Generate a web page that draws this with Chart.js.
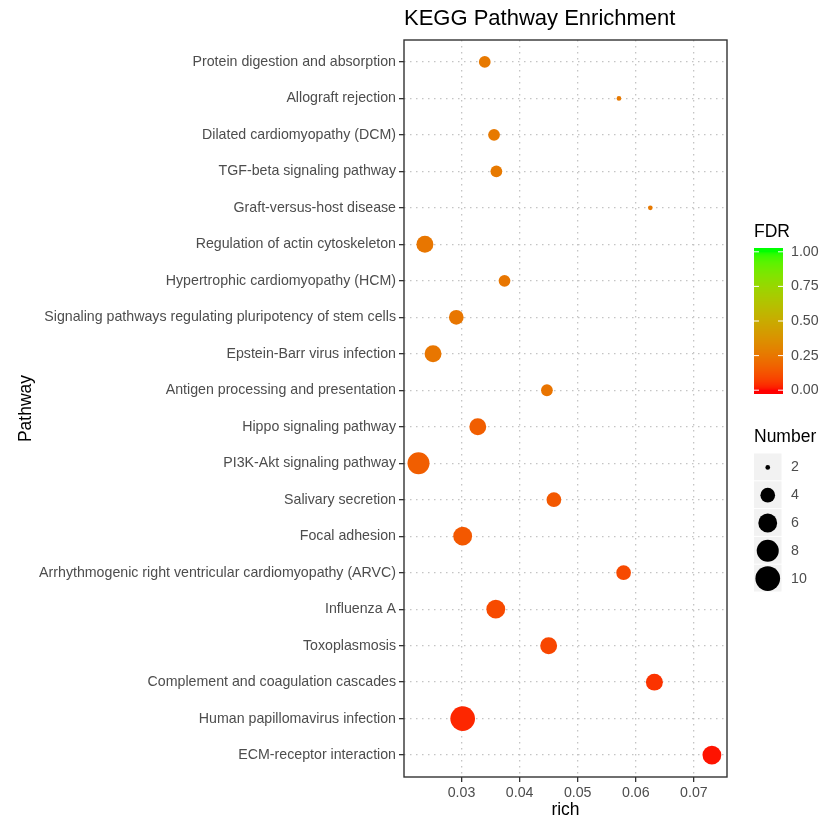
<!DOCTYPE html>
<html>
<head>
    <meta charset="utf-8">
    <title>KEGG Pathway Enrichment</title>
    <style>
        body { margin: 0; background: #fff; }
        #wrap { width: 820px; height: 821px; }
    </style>
</head>
<body>
    <div id="wrap">
        <canvas id="myChart"></canvas>
    </div>
    <script src="https://cdn.jsdelivr.net/npm/chart.js"></script>
    <script>
        // pathways top to bottom
        const pathways = [
            'Protein digestion and absorption',
            'Allograft rejection',
            'Dilated cardiomyopathy (DCM)',
            'TGF-beta signaling pathway',
            'Graft-versus-host disease',
            'Regulation of actin cytoskeleton',
            'Hypertrophic cardiomyopathy (HCM)',
            'Signaling pathways regulating pluripotency of stem cells',
            'Epstein-Barr virus infection',
            'Antigen processing and presentation',
            'Hippo signaling pathway',
            'PI3K-Akt signaling pathway',
            'Salivary secretion',
            'Focal adhesion',
            'Arrhythmogenic right ventricular cardiomyopathy (ARVC)',
            'Influenza A',
            'Toxoplasmosis',
            'Complement and coagulation cascades',
            'Human papillomavirus infection',
            'ECM-receptor interaction'
        ];
        const richValues = [0.0340, 0.0571, 0.0356, 0.0360, 0.0625, 0.0237, 0.0374, 0.0291, 0.0251, 0.0447,
                            0.0328, 0.0226, 0.0459, 0.0302, 0.0579, 0.0359, 0.0450, 0.0632, 0.0302, 0.0731];
        const geneCounts = [3, 2, 3, 3, 2, 5, 3, 4, 5, 3, 5, 8, 4, 6, 4, 6, 5, 5, 10, 6];
        const fdrValues = [0.26, 0.26, 0.26, 0.26, 0.26, 0.25, 0.25, 0.25, 0.25, 0.24,
                           0.16, 0.16, 0.14, 0.14, 0.10, 0.10, 0.09, 0.05, 0.03, 0.01];

        const xTicks = [0.03, 0.04, 0.05, 0.06, 0.07];
        const fdrTicks = [1.00, 0.75, 0.50, 0.25, 0.00];
        const sizeBreaks = [2, 4, 6, 8, 10];

        const FONT = '"Liberation Sans", Arial, sans-serif';
        const AXIS_GREY = '#4d4d4d';

        // red -> green, interpolated in Lab like ggplot's gradient
        const lin = c => { c /= 255; return c <= 0.04045 ? c / 12.92 : Math.pow((c + 0.055) / 1.055, 2.4); };
        const unlin = c => {
            c = Math.max(0, Math.min(1, c));
            const v = c <= 0.0031308 ? 12.92 * c : 1.055 * Math.pow(c, 1 / 2.4) - 0.055;
            return Math.round(v * 255);
        };
        const toLab = ([r, g, b]) => {
            const R = lin(r), G = lin(g), B = lin(b);
            const X = (0.4124 * R + 0.3576 * G + 0.1805 * B) / 0.95047;
            const Y = 0.2126 * R + 0.7152 * G + 0.0722 * B;
            const Z = (0.0193 * R + 0.1192 * G + 0.9505 * B) / 1.08883;
            const f = t => t > 0.008856 ? Math.cbrt(t) : 7.787 * t + 16 / 116;
            return [116 * f(Y) - 16, 500 * (f(X) - f(Y)), 200 * (f(Y) - f(Z))];
        };
        const fromLab = ([L, a, b]) => {
            const fy = (L + 16) / 116, fx = fy + a / 500, fz = fy - b / 200;
            const inv = t => t > 0.2069 ? t * t * t : (t - 16 / 116) / 7.787;
            const X = inv(fx) * 0.95047, Y = inv(fy), Z = inv(fz) * 1.08883;
            const R = 3.2406 * X - 1.5372 * Y - 0.4986 * Z;
            const G = -0.9689 * X + 1.8758 * Y + 0.0415 * Z;
            const B = 0.0557 * X - 0.2040 * Y + 1.0570 * Z;
            return `rgb(${unlin(R)},${unlin(G)},${unlin(B)})`;
        };
        const labLow = toLab([255, 0, 0]);
        const labHigh = toLab([0, 255, 0]);
        const fdrColor = v => fromLab(labLow.map((l, k) => l + (labHigh[k] - l) * v));

        // area-scaled point size, range 1..6 like scale_size
        const minN = Math.min(...geneCounts), maxN = Math.max(...geneCounts);
        const sizeToRadius = n => {
            const s = 1 + 5 * Math.sqrt((n - minN) / (maxN - minN));
            return 2 * s + 0.35;
        };

        const legendPlugin = {
            id: 'ggLegend',
            afterDraw(chart) {
                const ctx = chart.ctx;
                const area = chart.chartArea;
                ctx.save();

                // panel border
                ctx.strokeStyle = '#333';
                ctx.lineWidth = 1.4;
                ctx.strokeRect(area.left, area.top, area.right - area.left, area.bottom - area.top);

                const lx = 754;
                ctx.fillStyle = '#000';
                ctx.font = '17.5px ' + FONT;
                ctx.textAlign = 'left';
                ctx.textBaseline = 'middle';
                ctx.fillText('FDR', lx, 232);

                // colour bar
                const barTop = 248, barBot = 394, barW = 29;
                const yOne = 251.8, yZero = 390.2;
                for (let y = barTop; y < barBot; y++) {
                    let v = (yZero - (y + 0.5)) / (yZero - yOne);
                    v = Math.max(0, Math.min(1, v));
                    ctx.fillStyle = fdrColor(v);
                    ctx.fillRect(lx, y, barW, 1);
                }
                ctx.strokeStyle = '#fff';
                ctx.lineWidth = 1;
                ctx.font = '14.2px ' + FONT;
                fdrTicks.forEach(t => {
                    const y = yZero - t * (yZero - yOne);
                    ctx.beginPath();
                    ctx.moveTo(lx, y); ctx.lineTo(lx + 5, y);
                    ctx.moveTo(lx + barW - 5, y); ctx.lineTo(lx + barW, y);
                    ctx.stroke();
                    ctx.fillStyle = AXIS_GREY;
                    ctx.fillText(t.toFixed(2), 791, y);
                });

                // size legend
                ctx.fillStyle = '#000';
                ctx.font = '17.5px ' + FONT;
                ctx.fillText('Number', lx, 437);
                const keyTop = 453.5, keyH = 27.8, keyW = 27.5;
                ctx.font = '14.2px ' + FONT;
                sizeBreaks.forEach((n, i) => {
                    const y0 = keyTop + i * keyH;
                    ctx.fillStyle = '#f2f2f2';
                    ctx.fillRect(lx, y0, keyW, keyH - 1);
                    ctx.fillStyle = '#000';
                    ctx.beginPath();
                    ctx.arc(lx + keyW / 2, y0 + keyH / 2, sizeToRadius(n), 0, Math.PI * 2);
                    ctx.fill();
                    ctx.fillStyle = AXIS_GREY;
                    ctx.fillText(String(n), 791, y0 + keyH / 2);
                });
                ctx.restore();
            }
        };

        Chart.defaults.font.family = FONT;

        const data = {
            datasets: [{
                label: 'Pathways',
                data: pathways.map((p, i) => ({ x: richValues[i], y: i })),
                pointRadius: geneCounts.map(sizeToRadius),
                pointHoverRadius: geneCounts.map(sizeToRadius),
                backgroundColor: fdrValues.map(fdrColor),
                borderWidth: 0,
                pointBorderWidth: 0
            }]
        };

        const config = {
            type: 'scatter',
            data: data,
            options: {
                responsive: true,
                maintainAspectRatio: false,
                animation: false,
                events: [],
                layout: { padding: { left: 0, right: 93, top: 0, bottom: 0 } },
                plugins: {
                    legend: { display: false },
                    tooltip: { enabled: false },
                    title: {
                        display: true,
                        text: 'KEGG Pathway Enrichment',
                        align: 'start',
                        fullSize: false,
                        color: '#000',
                        font: { size: 22, weight: 'normal' },
                        padding: { top: 5.5, bottom: 8.1 }
                    }
                },
                scales: {
                    x: {
                        type: 'linear',
                        min: 0.0201,
                        max: 0.0757,
                        afterBuildTicks: s => { s.ticks = xTicks.map(v => ({ value: v })); },
                        afterFit: s => { s.height = 44; },
                        ticks: {
                            callback: v => v.toFixed(2),
                            color: AXIS_GREY,
                            font: { size: 14.2 },
                            padding: 3,
                            maxRotation: 0
                        },
                        grid: {
                            color: '#c4c4c4',
                            lineWidth: 1.3,
                            tickLength: 5,
                            tickColor: '#333',
                            tickWidth: 1.3
                        },
                        border: { display: false, dash: [1.5, 4.5] },
                        title: {
                            display: true,
                            text: 'rich',
                            color: '#000',
                            font: { size: 17.5 },
                            padding: { top: 0, bottom: 0.5 }
                        }
                    },
                    y: {
                        type: 'linear',
                        reverse: true,
                        min: -0.6,
                        max: pathways.length - 1 + 0.6,
                        afterBuildTicks: s => { s.ticks = pathways.map((p, i) => ({ value: i })); },
                        afterFit: s => { s.width = 404; },
                        ticks: {
                            callback: v => pathways[v],
                            autoSkip: false,
                            color: AXIS_GREY,
                            font: { size: 14.2 },
                            padding: 3
                        },
                        grid: {
                            color: '#c4c4c4',
                            lineWidth: 1.3,
                            tickLength: 5,
                            tickColor: '#333',
                            tickWidth: 1.3
                        },
                        border: { display: false, dash: [1.5, 4.5] },
                        title: {
                            display: true,
                            text: 'Pathway',
                            color: '#000',
                            font: { size: 17.5 },
                            padding: { top: 16, bottom: 0 }
                        }
                    }
                }
            },
            plugins: [legendPlugin]
        };

        const myChart = new Chart(document.getElementById('myChart'), config);
    </script>
</body>
</html>
